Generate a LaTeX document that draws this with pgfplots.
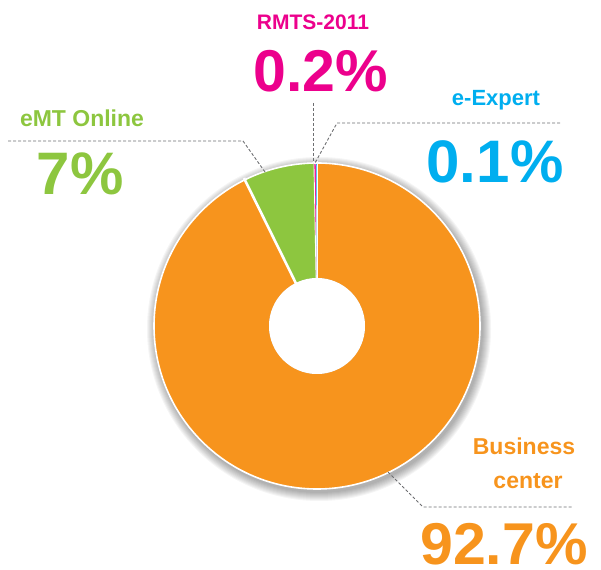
\documentclass[border=0pt]{standalone}
\usepackage{pgfplots}
\pgfplotsset{compat=1.18}
\usepackage{pgfplotstable}
\usepackage{fontspec}
\setmainfont{Liberation Sans}

\definecolor{bizorange}{HTML}{F7941D}
\definecolor{emtgreen}{HTML}{8DC63F}
\definecolor{rmtspink}{HTML}{EC008C}
\definecolor{expertblue}{HTML}{00AEEF}
\definecolor{leader}{HTML}{6D6E71}

% share of each channel, in %, clockwise from 12 o'clock
\pgfplotstableread{
label     value
Business  92.7
eMT       7.0
RMTS      0.2
eExpert   0.1
}\sharetable

% donut centre and radii (axis units = pt)
\def\cx{317}
\def\cy{243}
\def\Ro{163}
\def\Ri{48}

\newcommand\donutslice[3]{% colour, start angle, end angle
  \fill[#1] ({\cx+\Ro*cos(#2)},{\cy+\Ro*sin(#2)})
    arc[start angle=#2, end angle=#3, radius=\Ro pt]
    -- ({\cx+\Ri*cos(#3)},{\cy+\Ri*sin(#3)})
    arc[start angle=#3, end angle=#2, radius=\Ri pt] -- cycle;}
\newcommand\gap[2]{% angle, width
  \draw[white, line width=#2] ({\cx+(\Ri-2)*cos(#1)},{\cy+(\Ri-2)*sin(#1)})
    -- ({\cx+(\Ro+2)*cos(#1)},{\cy+(\Ro+2)*sin(#1)});}

\tikzset{lbl/.style={anchor=base, inner sep=0pt}}

\begin{document}
\begin{tikzpicture}
  \pgfplotstablegetelem{0}{value}\of\sharetable \let\vA\pgfplotsretval
  \pgfplotstablegetelem{1}{value}\of\sharetable \let\vB\pgfplotsretval
  \pgfplotstablegetelem{2}{value}\of\sharetable \let\vC\pgfplotsretval
  \pgfplotstablegetelem{3}{value}\of\sharetable \let\vD\pgfplotsretval
  \pgfmathsetmacro\aA{90}
  \pgfmathsetmacro\aB{\aA-3.6*\vA}
  \pgfmathsetmacro\aC{\aB-3.6*\vB}
  \pgfmathsetmacro\aD{\aC-3.6*\vC}
  \pgfmathsetmacro\aE{\aD-3.6*\vD}
  \begin{axis}[
      x=1pt, y=1pt,
      xmin=0, xmax=601, ymin=0, ymax=569,
      hide axis, clip=false,
    ]
    \path (axis cs:0,0) rectangle (axis cs:601,569);

    % soft shadow
    \pgfplotsinvokeforeach{1,...,9}{
      \fill[black, opacity=0.04] (axis cs:\cx+2,\cy-3) circle[radius={\Ro pt+#1pt}];
    }

    \donutslice{bizorange}{\aA}{\aB}
    \donutslice{emtgreen}{\aB}{\aC}
    \donutslice{rmtspink}{\aC}{\aD}
    \donutslice{expertblue}{\aD}{\aE}
    \fill[white] (axis cs:\cx,\cy) circle[radius=\Ri pt];
    \gap{\aB}{2.6pt}
    \gap{\aC}{0.9pt}
    \gap{\aD}{0.5pt}
    \gap{\aA}{1.0pt}
    \draw[white, line width=1.6pt] (axis cs:\cx,\cy) circle[radius=\Ro pt];

    % leader lines
    \draw[leader, line width=0.9pt, dash pattern=on 3pt off 2pt]
      (axis cs:8,428) -- (axis cs:243,428) -- (axis cs:265,397);
    \draw[leader, line width=0.9pt, dash pattern=on 3pt off 2pt]
      (axis cs:313,466) -- (axis cs:313,406);
    \draw[leader, line width=0.9pt, dash pattern=on 3pt off 2pt]
      (axis cs:560,446) -- (axis cs:337,446) -- (axis cs:315,406);
    \draw[leader, line width=0.9pt, dash pattern=on 3pt off 2pt]
      (axis cs:388,97) -- (axis cs:423,62) -- (axis cs:572,62);

    % labels
    \node[lbl, text=rmtspink, font=\bfseries\fontsize{21}{25}\selectfont] at (axis cs:313,539) {RMTS-2011};
    \node[lbl, text=rmtspink, font=\bfseries\fontsize{59}{64}\selectfont] at (axis cs:321,477) {0.2\%};
    \node[lbl, text=emtgreen, font=\bfseries\fontsize{23}{27}\selectfont] at (axis cs:82,442) {eMT Online};
    \node[lbl, text=emtgreen, font=\bfseries\fontsize{60}{64}\selectfont] at (axis cs:80,374) {7\%};
    \node[lbl, text=expertblue, font=\bfseries\fontsize{22}{26}\selectfont] at (axis cs:496,463) {e-Expert};
    \node[lbl, text=expertblue, font=\bfseries\fontsize{60}{64}\selectfont] at (axis cs:495,386) {0.1\%};
    \node[lbl, text=bizorange, font=\bfseries\fontsize{23}{27}\selectfont] at (axis cs:524,114) {Business};
    \node[lbl, text=bizorange, font=\bfseries\fontsize{23}{27}\selectfont] at (axis cs:528,80) {center};
    \node[lbl, text=bizorange, font=\bfseries\fontsize{59}{64}\selectfont] at (axis cs:504,5) {92.7\%};
  \end{axis}
\end{tikzpicture}
\end{document}
